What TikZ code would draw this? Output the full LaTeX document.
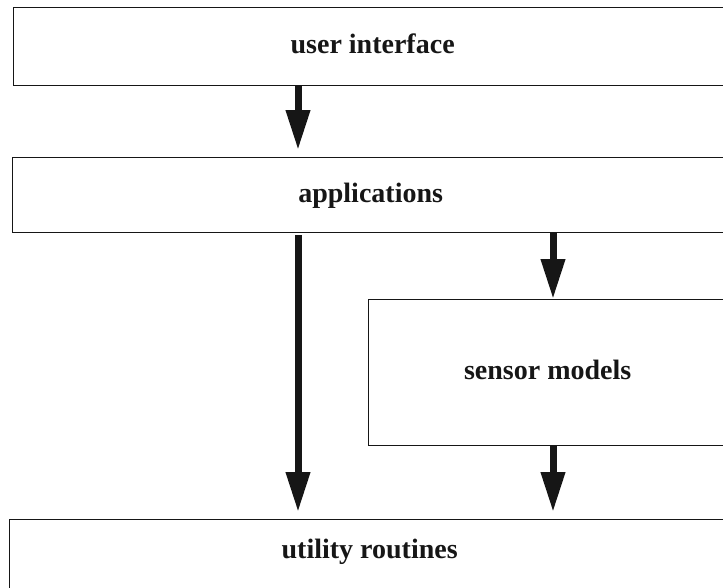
\documentclass[tikz,border=0pt]{standalone}
\usepackage{fontspec}
\setmainfont{Liberation Serif}
\usepackage{xcolor}
\usetikzlibrary{arrows.meta}
\definecolor{ink}{HTML}{161616}

\begin{document}
\begin{tikzpicture}[x=1pt, y=-1pt,
    every node/.style={font=\fontsize{28}{32}\selectfont\bfseries, color=ink},
    layer/.style={draw=ink, line width=1.3pt, rectangle, inner sep=0pt,
      anchor=north west, text height=19pt, text depth=5pt},
    flow/.style={draw=ink, line width=7pt, -{Triangle[width=23pt, length=40pt]}}]
  \useasboundingbox (0,0) rectangle (723,587);
  \clip (0,0) rectangle (723,587);
  % layers, open to the right edge
  \node[layer, minimum width=718pt, minimum height=78pt] (ui) at (13,7) {user interface};
  \node[layer, minimum width=716pt, minimum height=75pt] (apps) at (12,157) {applications};
  \node[layer, minimum width=358pt, minimum height=146pt] (sens) at (368,299) {sensor models};
  \node[layer, minimum width=720pt, minimum height=81pt, text depth=22pt] (util) at (9,519) {utility routines};
  % arrow columns
  \coordinate (lx) at (298,0);
  \coordinate (rx) at (553,0);
  \draw[flow, shorten >=7pt] (lx |- ui.south) -- (lx |- apps.north);
  \draw[flow, shorten <=2pt, shorten >=7pt] (lx |- apps.south) -- (lx |- util.north);
  \draw[flow] (rx |- apps.south) -- (rx |- sens.north);
  \draw[flow, shorten >=7pt] (rx |- sens.south) -- (rx |- util.north);
\end{tikzpicture}
\end{document}
